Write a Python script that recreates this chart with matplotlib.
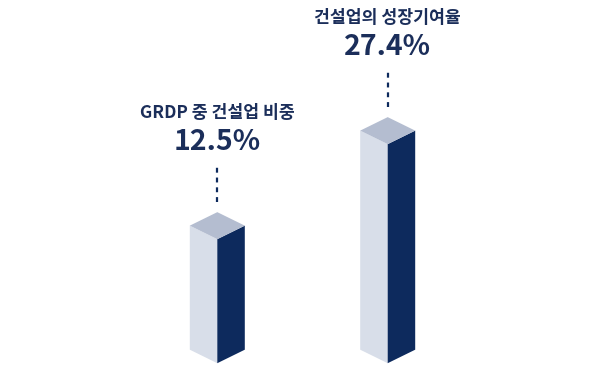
import matplotlib
matplotlib.use('Agg')
import matplotlib.pyplot as plt
from matplotlib.patches import Polygon

plt.rcParams['font.family'] = ['Noto Sans CJK KR', 'DejaVu Sans']

# data
labels = ['GRDP 중 건설업 비중', '건설업의 성장기여율']
values = [12.5, 27.4]
value_texts = ['12.5%', '27.4%']
x_pos = [217.3, 387.7]

# styling
c_left = '#d8dee9'
c_right = '#0d2a5d'
c_top = '#b4bdd0'
c_text = '#1b2e5a'

base = -6.95      # bar foot (value units)
half_w = 27.5     # half width of a bar, px
px_per_unit = 6.376
d = 13.5 / px_per_unit   # isometric vertical offset, value units

fig = plt.figure(figsize=(6.09, 3.69), dpi=100)
ax = fig.add_axes([0, 0, 1, 1])
ax.set_xlim(0, 609)
ax.set_ylim(-7.86, 50.0)
ax.axis('off')

for xc, v, lab, vt in zip(x_pos, values, labels, value_texts):
    # left face
    ax.add_patch(Polygon([(xc - half_w, v + d), (xc, v), (xc, base), (xc - half_w, base + d)],
                         closed=True, facecolor=c_left, edgecolor='none'))
    # right face
    ax.add_patch(Polygon([(xc, v), (xc + half_w, v + d), (xc + half_w, base + d), (xc, base)],
                         closed=True, facecolor=c_right, edgecolor='none'))
    # top
    ax.add_patch(Polygon([(xc - half_w, v + d), (xc, v + 2 * d), (xc + half_w, v + d), (xc, v)],
                         closed=True, facecolor=c_top, edgecolor='none'))

    top = v + 2 * d
    ax.plot([xc, xc], [top + 10.0 / px_per_unit, top + 49.5 / px_per_unit],
            color=c_right, lw=1.6, linestyle=(0, (2.2, 2.2)), solid_capstyle='butt')
    ax.annotate(vt, (xc, top), xytext=(0, 70.5 * 0.72), textcoords='offset points',
                ha='center', va='center', fontsize=20.5, fontweight='bold', color=c_text)
    ax.annotate(lab, (xc, top), xytext=(0, 99.5 * 0.72), textcoords='offset points',
                ha='center', va='center', fontsize=12.4, fontweight='bold', color=c_text)

fig.savefig('out.png', dpi=100)
